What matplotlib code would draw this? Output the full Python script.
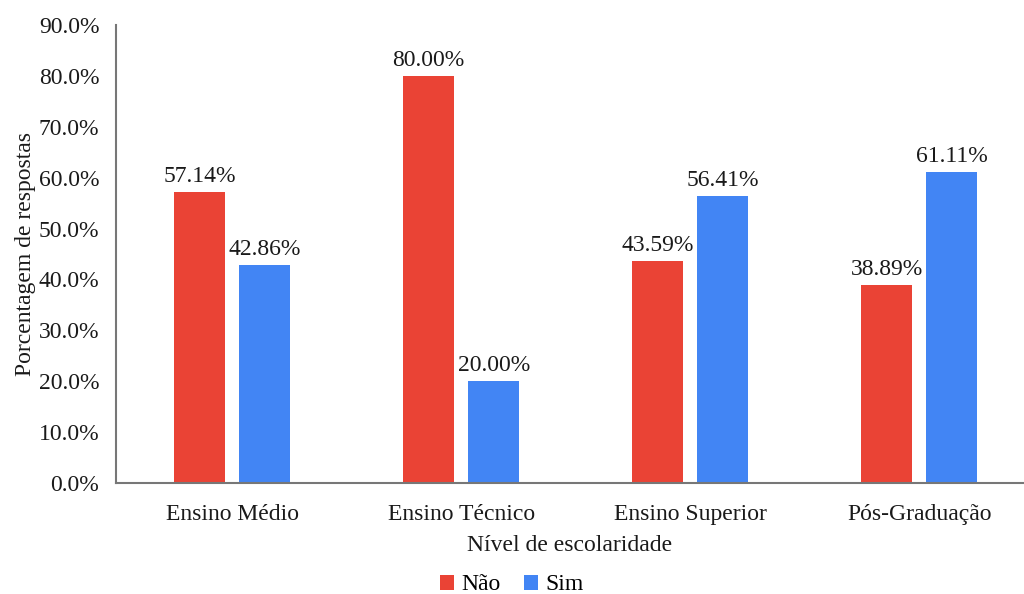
import numpy as np
import matplotlib
matplotlib.use('Agg')
import matplotlib.pyplot as plt
from matplotlib.ticker import FuncFormatter

categories = ["Ensino Médio", "Ensino Técnico", "Ensino Superior", "Pós-Graduação"]
nao = [57.14, 80.00, 43.59, 38.89]
sim = [42.86, 20.00, 56.41, 61.11]

red = "#EA4335"
blue = "#4285F4"

plt.rcParams['font.family'] = ['Liberation Serif', 'DejaVu Serif']

fig = plt.figure(figsize=(10.24, 5.94), dpi=100)
ax = fig.add_axes([116 / 1024, 111 / 594, 908 / 1024, 458 / 594])

x = np.arange(len(categories))
w = 0.223
off = 0.142
b1 = ax.bar(x - off, nao, w, color=red, label="Não")
b2 = ax.bar(x + off, sim, w, color=blue, label="Sim")

for bars, vals in ((b1, nao), (b2, sim)):
    for b, v in zip(bars, vals):
        ax.text(b.get_x() + b.get_width() / 2, v + 1.0, f"{v:.2f}%",
                ha='center', va='bottom', fontsize=17, color='#1a1a1a')

ax.set_xlim(-0.507, 3.458)
ax.set_ylim(0, 90)
ax.set_yticks(np.arange(0, 91, 10))
ax.yaxis.set_major_formatter(FuncFormatter(lambda v, p: f"{v:.1f}%"))
ax.set_xticks(x)
ax.set_xticklabels(categories)
ax.tick_params(axis='both', length=0, labelsize=17, colors='#1a1a1a')
ax.tick_params(axis='x', pad=15)
ax.tick_params(axis='y', pad=12)

for s in ('top', 'right'):
    ax.spines[s].set_visible(False)
for s in ('left', 'bottom'):
    ax.spines[s].set_color('#777777')
    ax.spines[s].set_linewidth(1.5)

ax.set_xlabel("Nível de escolaridade", fontsize=17, color='#1a1a1a', labelpad=7)
ax.set_ylabel("Porcentagem de respostas", fontsize=17, color='#1a1a1a', labelpad=2)

fig.legend(loc='center', bbox_to_anchor=(0.5, 9 / 594), ncol=2, frameon=False,
           fontsize=17, handlelength=0.6, handleheight=0.6, handletextpad=0.3,
           columnspacing=1.0)

fig.savefig("out.png", dpi=100)
